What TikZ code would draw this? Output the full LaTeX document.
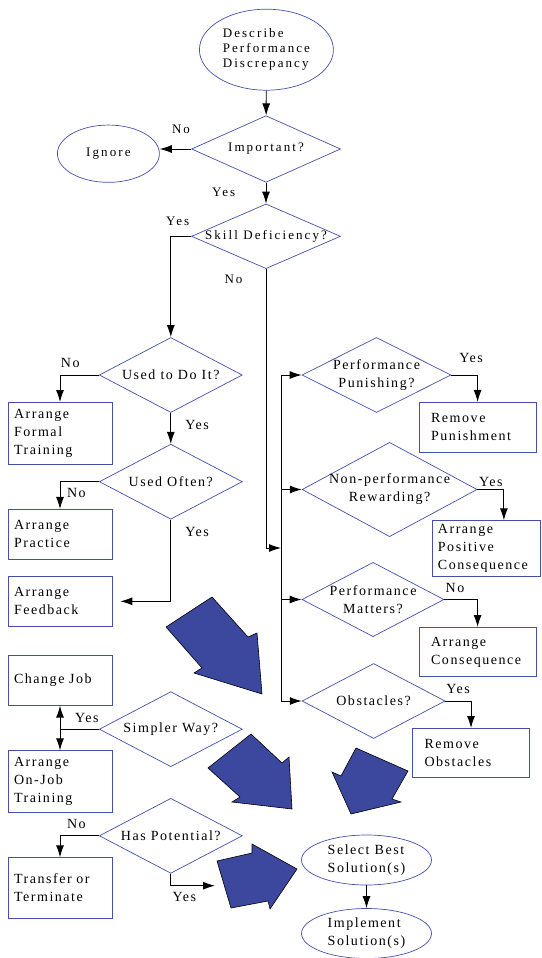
\documentclass[tikz,border=0pt]{standalone}
\usepackage{fontspec}
\setmainfont{Liberation Serif}
\newfontfamily\widefont[LetterSpace=16]{Liberation Serif}
\newfontfamily\flowfont[LetterSpace=11]{Liberation Serif}
\usetikzlibrary{arrows.meta,shapes.geometric}
\definecolor{outline}{RGB}{68,80,172}
\definecolor{bigblue}{RGB}{59,72,158}

\begin{document}
\begin{tikzpicture}[x=1pt, y=-1pt, line width=0.9pt,
    >={Latex[length=12pt,width=8pt]},
    every node/.style={font=\flowfont\fontsize{14}{18}\selectfont},
    wide/.style={font=\widefont\fontsize{13}{15}\selectfont},
    terminal/.style={draw=outline, ellipse, line width=0.7pt, inner sep=0pt, align=left},
    decision/.style={draw=outline, diamond, aspect=2, line width=0.7pt, inner sep=-15pt,
        align=center, minimum width=143pt, minimum height=75pt},
    action/.style={draw=outline, rectangle, line width=0.7pt, align=left,
        inner xsep=6pt, text width=92pt},
    sideaction/.style={action, inner xsep=12pt, text width=93pt},
    bigarrow/.style={fill=bigblue, draw=black, line width=0.6pt, line join=miter}]
    \useasboundingbox (0,0) rectangle (541,958);

    % Define nodes: main column
    \node[terminal, wide, minimum width=134pt, minimum height=81pt] at (266.4, 49.7) (describe) {Describe\\Performance\\Discrepancy};
    \node[decision, wide, minimum width=149pt, minimum height=66.6pt] at (266, 149) (important) {Important?};
    \node[terminal, wide, minimum width=102pt, minimum height=57.3pt] at (108.4, 153.7) (ignore) {Ignore};
    \node[decision, wide, minimum width=149pt, minimum height=64.7pt] at (266, 236.3) (skill) {Skill Deficiency?};

    % Define nodes: skill side
    \node[decision] at (170.8, 375) (used) {Used to Do It?};
    \node[action, minimum height=61.7pt] at (60, 433.2) (formal) {Arrange\\Formal\\Training};
    \node[decision] at (170.8, 481.7) (often) {Used Often?};
    \node[action, minimum height=50pt] at (60, 534.3) (practice) {Arrange\\Practice};
    \node[action, minimum height=49.3pt] at (60, 601.3) (feedback) {Arrange\\Feedback};
    \node[action, minimum height=50pt] at (60, 680.3) (change) {Change Job};
    \node[decision] at (170.8, 729.2) (simpler) {Simpler Way?};
    \node[action, minimum height=61.7pt] at (60, 781.5) (onjob) {Arrange\\On-Job\\Training};
    \node[decision] at (170.8, 835.8) (potential) {Has Potential?};
    \node[action, minimum height=60.7pt] at (60, 888) (transfer) {Transfer or\\Terminate};

    % Define nodes: motivation side
    \node[decision, minimum width=149pt] at (376.5, 375) (punish) {Performance\\Punishing?};
    \node[sideaction, minimum height=50pt] at (477.6, 427.3) (rempun) {Remove\\Punishment};
    \node[decision, minimum width=175pt, minimum height=94.3pt] at (389.6, 489.5) (reward) {Non-performance\\Rewarding?};
    \node[action, text width=96pt, minimum height=55.3pt] at (485.9, 548.3) (positive) {Arrange\\Positive\\Consequence};
    \node[decision, minimum width=142pt, minimum height=74.3pt] at (373, 599.5) (matters) {Performance\\Matters?};
    \node[sideaction, minimum height=49.3pt] at (477.6, 652) (conseq) {Arrange\\Consequence};
    \node[decision] at (373.6, 701) (obstacles) {Obstacles?};
    \node[sideaction, minimum height=49.3pt] at (471, 753) (remobs) {Remove\\Obstacles};

    % Define nodes: solution
    \node[terminal, minimum width=130pt, minimum height=50pt] at (366.5, 860) (select) {Select Best\\Solution(s)};
    \node[terminal, minimum width=130pt, minimum height=50pt] at (366.5, 933.5) (implement) {Implement\\Solution(s)};

    % Labels
    \node[wide] at (181, 129.7) (importantno) {No};
    \node[wide] at (223.7, 192.8) (importantyes) {Yes};
    \node[wide] at (177.7, 221.7) (skillyes) {Yes};
    \node[wide] at (233.5, 279.5) (skillno) {No};
    \node at (70.2, 363) (usedno) {No};
    \node at (197, 425.3) (usedyes) {Yes};
    \node at (76.4, 493.3) (oftenno) {No};
    \node at (197, 532) (oftenyes) {Yes};
    \node at (86.8, 717.5) (simpleryes) {Yes};
    \node at (76.4, 824.3) (potentialno) {No};
    \node at (184.3, 897.2) (potentialyes) {Yes};
    \node at (471, 358) (punishyes) {Yes};
    \node at (490.9, 482.2) (rewardyes) {Yes};
    \node at (455, 588) (mattersno) {No};
    \node at (458, 689.2) (obstaclesyes) {Yes};

    % Draw arrows
    \draw[->] (describe) -- (important);
    \draw[->] (important.west) -- (important.west -| ignore.east);
    \draw[->] (important) -- (skill);
    \draw[->] (skill.west) -| (used.north);
    \coordinate (bus) at (281, 548);
    \draw[->] (skill.south) |- (bus);
    \draw[->] (obstacles.west -| bus) |- (punish.west);
    \draw[->] (bus |- reward.west) -- (reward.west);
    \draw[->] (bus |- matters.west) -- (matters.west);
    \draw[->] (obstacles.west -| bus) -- (obstacles.west);
    \draw[->] (used.west) -| (formal.north);
    \draw[->] (used) -- (often);
    \draw[->] (often.west) -| (practice.north);
    \draw[->] (often.south) |- ([xshift=8pt]feedback.east);
    \draw (simpler.west) -- (simpler.west -| change.south);
    \draw[<->] (change) -- (onjob);
    \draw[->] (potential.west) -| (transfer.north);
    \coordinate (potentialend) at (215, 885.7);
    \draw[->] (potential.south) |- (potentialend);
    \draw[->] (punish.east) -| (rempun.north);
    \draw[->] (reward.east) -| ([xshift=18pt]positive.north);
    \draw[->] (matters.east) -| (conseq.north);
    \draw[->] (obstacles.east) -| (remobs.north);
    \draw[->] (select) -- (implement);

    % Big arrows
    \draw[bigarrow] (166,627) -- (212,597) -- (248,637) -- (257,633) -- (262,694) -- (194,673) -- (202,668) -- cycle;
    \draw[bigarrow] (208,768) -- (251,734) -- (282,763) -- (289,757) -- (292,809) -- (232,802) -- (240,797) -- cycle;
    \draw[bigarrow] (356,748) -- (408,771) -- (392,799) -- (401,802) -- (351,814) -- (332,772) -- (341,776) -- cycle;
    \draw[bigarrow] (217,861) -- (252,853) -- (252,844) -- (297,869) -- (270,909) -- (268,901) -- (231,908) -- cycle;
\end{tikzpicture}
\end{document}
